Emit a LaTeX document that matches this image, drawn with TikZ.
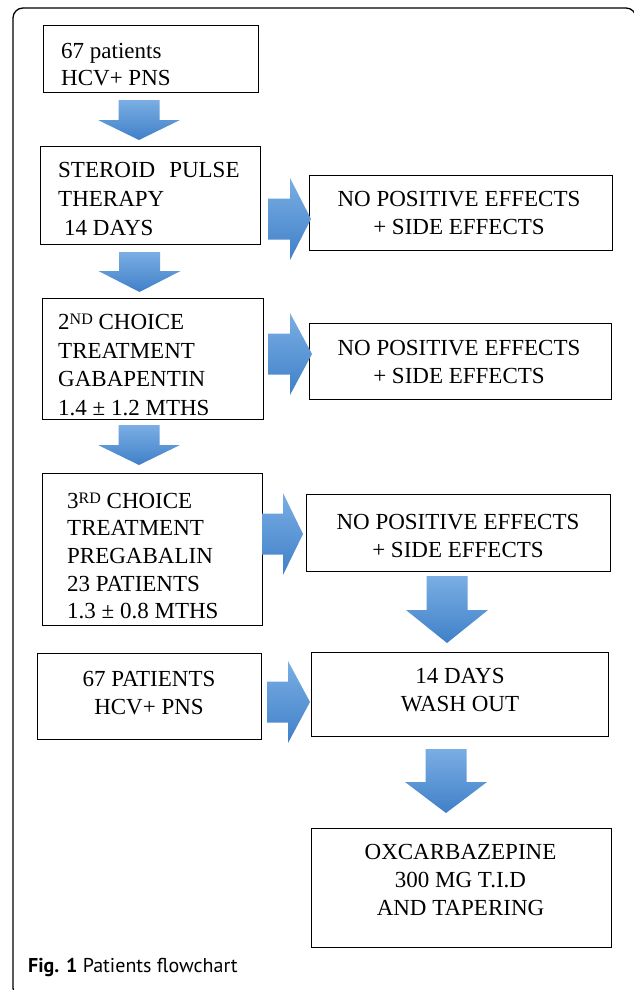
\documentclass[tikz,border=0pt]{standalone}
\usepackage{fontspec}
\setmainfont{Liberation Serif}
\newfontfamily\serifx{Liberation Serif}
\newfontfamily\capfont{PT Sans}
\definecolor{arrtop}{RGB}{122,174,228}
\definecolor{arrbot}{RGB}{64,128,200}
\newcommand\supx[1]{\raisebox{5pt}{\fontsize{16}{16}\selectfont #1}}
\tikzset{
  box/.style={draw=black, line width=1.1pt, inner sep=0pt, anchor=north west},
  ltxt/.style={inner sep=0pt, align=left, anchor=north west},
  ctxt/.style={inner sep=0pt, align=center, anchor=north, font=\serifx\fontsize{23}{28}\selectfont},
  arrowfill/.style={top color=arrtop, bottom color=arrbot, draw=none},
  pics/darr/.style n args={2}{code={\shade[arrowfill] (-20.5,0) -- (20.5,0) -- (20.5,#2) -- (41,#2) -- (0,#1) -- (-41,#2) -- (-20.5,#2) -- cycle;}},
  pics/rarr/.style n args={2}{code={\shade[arrowfill] (0,-20.5) -- (#2,-20.5) -- (#2,-41) -- (#1,0) -- (#2,41) -- (#2,20.5) -- (0,20.5) -- cycle;}},
}
\begin{document}
\begin{tikzpicture}[x=1pt,y=-1pt]
\useasboundingbox (0,0) rectangle (634,990);
\clip (0,0) rectangle (634,990);
\fill[white] (0,0) rectangle (634,990);
% frame
\draw[line width=1.3pt, rounded corners=10pt] (13,8) rectangle (636,998);

% boxes
\node[box, minimum width=215pt, minimum height=67pt] (b1) at (43,25) {};
\node[box, minimum width=220pt, minimum height=98pt] (b2) at (40,146) {};
\node[box, minimum width=221pt, minimum height=121pt] (b3) at (42,298) {};
\node[box, minimum width=220pt, minimum height=152pt] (b4) at (42,473) {};
\node[box, minimum width=224pt, minimum height=86pt] (b5) at (37,653) {};
\node[box, minimum width=303pt, minimum height=75pt] (n1) at (309,175) {};
\node[box, minimum width=302pt, minimum height=76pt] (n2) at (309,323) {};
\node[box, minimum width=304pt, minimum height=77pt] (n3) at (306,494) {};
\node[box, minimum width=297pt, minimum height=84pt] (wo) at (311,652) {};
\node[box, minimum width=300pt, minimum height=119pt] (ox) at (311,828) {};

% texts
\node[ltxt, font=\serifx\fontsize{23}{27}\selectfont] (t1) at (61,42.7) {67 patients\\HCV+ PNS};
\node[ltxt, font=\serifx\fontsize{23}{29}\selectfont] (t2) at (58,161.7) {STEROID\hspace{14pt}PULSE\\THERAPY\\\hspace{6pt}14 DAYS};
\node[ltxt, font=\serifx\fontsize{23}{28.6}\selectfont] (t3) at (58,314) {2\supx{ND} CHOICE\\TREATMENT\\GABAPENTIN\\1.4 ± 1.2 MTHS};
\node[ltxt, font=\serifx\fontsize{23}{27.7}\selectfont] (t4) at (67,492.5) {3\supx{RD} CHOICE\\TREATMENT\\PREGABALIN\\23 PATIENTS\\1.3 ± 0.8 MTHS};
\node[ctxt] (t5) at (149,671) {67 PATIENTS\\HCV+ PNS};
\node[ctxt] (tn1) at (459,190.7) {NO POSITIVE EFFECTS\\+ SIDE EFFECTS};
\node[ctxt] (tn2) at (459,339.7) {NO POSITIVE EFFECTS\\+ SIDE EFFECTS};
\node[ctxt] (tn3) at (458,514) {NO POSITIVE EFFECTS\\+ SIDE EFFECTS};
\node[ctxt] (tw) at (460,667.7) {14 DAYS\\WASH OUT};
\node[ctxt] (tox) at (460.5,843.7) {OXCARBAZEPINE\\300 MG T.I.D\\AND TAPERING};

% block arrows
\pic at (139,100) {darr={40}{20}};
\pic at (139.5,252) {darr={40}{19}};
\pic at (139,425) {darr={40}{20}};
\pic at (447,576) {darr={67}{34}};
\pic at (446,749) {darr={64}{33}};
\pic at (268,219) {rarr={43}{22}};
\pic at (268,354) {rarr={44}{22}};
\pic at (262,534) {rarr={41}{21}};
\pic at (267,702) {rarr={43}{21}};

% caption
\node[anchor=base west, inner sep=0pt, font=\capfont\fontsize{20}{24}\selectfont] (cap) at (28,972) {\textbf{Fig. 1} Patients flowchart};
\end{tikzpicture}
\end{document}
